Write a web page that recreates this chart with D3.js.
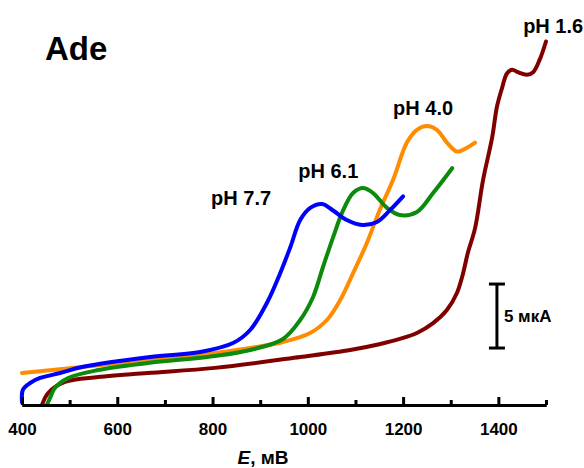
<!DOCTYPE html>
<html>
<head>
<meta charset="utf-8">
<script src="https://cdn.jsdelivr.net/npm/d3@7"></script>
<style>
  html, body { margin: 0; padding: 0; background: #fff; }
  svg { display: block; }
  text { font-family: "Liberation Sans", Arial, sans-serif; font-weight: bold; fill: #000; }
</style>
</head>
<body>
<svg id="chart" width="584" height="468"></svg>
<script>
// Potential, mV
const xTicksMajor = [400, 600, 800, 1000, 1200, 1400];
const xTicksMinor = [500, 700, 900, 1100, 1300, 1500];

// Voltammograms of adenine: [E (mV), I (µA)]
const ph77 = [
  [400, 0.2], [402, 1.2], [417, 1.72], [438, 2.11], [480, 2.5], [526, 2.97],
  [669, 3.75], [774, 4.14], [843, 4.84], [879, 5.86], [914, 7.97], [942, 10.3],
  [963, 12.3], [984, 14.45], [1005, 15.4], [1030, 15.7], [1053, 15.2],
  [1082, 14.45], [1114, 14.06], [1145, 14.3], [1172, 15.2], [1200, 16.3]
];
const ph61 = [
  [452, 0], [459, 0.55], [469, 1.33], [497, 2.1], [560, 2.73], [664, 3.28],
  [805, 3.83], [879, 4.3], [948, 5.16], [984, 6.64], [1011, 8.44], [1032, 10.8],
  [1053, 13.1], [1074, 15.2], [1095, 16.56], [1116, 16.95], [1137, 16.56],
  [1166, 15.4], [1193, 14.84], [1229, 15.08], [1263, 16.56], [1303, 18.5]
];
const ph40 = [
  [400, 2.5], [526, 2.97], [805, 4.06], [879, 4.45], [948, 4.92], [1005, 5.63],
  [1040, 6.64], [1068, 8.2], [1095, 10.3], [1124, 12.66], [1151, 15.23],
  [1179, 17.6], [1208, 20.5], [1229, 21.5], [1250, 21.8], [1271, 21.5],
  [1292, 20.5], [1313, 19.8], [1334, 20.1], [1351, 20.5]
];
const ph16 = [
  [442, 0], [455, 0.94], [490, 1.8], [560, 2.19], [664, 2.5], [805, 2.9],
  [984, 3.75], [1089, 4.3], [1150, 4.75], [1193, 5.16], [1229, 5.63], [1263, 6.4],
  [1292, 7.42], [1313, 8.75], [1326, 10.3], [1336, 11.9], [1351, 13.8],
  [1368, 17.6], [1387, 20.9], [1397, 23.3], [1408, 24.8], [1418, 25.9],
  [1429, 26.2], [1441, 26.0], [1460, 25.8], [1473, 26.0], [1487, 27.0], [1500, 28.4]
];

const series = [
  { name: "pH 1.6", data: ph16, color: "#800000", label: [1452, 29.06] },
  { name: "pH 4.0", data: ph40, color: "#ff8c00", label: [1179, 22.66] },
  { name: "pH 6.1", data: ph61, color: "#0b8a0b", label: [980, 17.73] },
  { name: "pH 7.7", data: ph77, color: "#0000ff", label: [797, 15.63] }
];

// Scale bar: 5 µA
const scaleBar = { E: 1397, from: 4.45, to: 9.45, text: "5 мкА" };

const svg = d3.select("#chart");

const x = d3.scaleLinear().domain([400, 1500]).range([22, 546]);
const y = d3.scaleLinear().domain([0, 30]).range([405, 21]);

const line = d3.line()
  .x(d => x(d[0]))
  .y(d => y(d[1]))
  .curve(d3.curveCatmullRom.alpha(0.5));

// Curves
svg.append("g").selectAll("path")
  .data(series)
  .join("path")
  .attr("d", d => line(d.data))
  .attr("fill", "none")
  .attr("stroke", d => d.color)
  .attr("stroke-width", 4)
  .attr("stroke-linecap", "round")
  .attr("stroke-linejoin", "round");

// Curve labels
svg.append("g").selectAll("text")
  .data(series)
  .join("text")
  .attr("x", d => x(d.label[0]))
  .attr("y", d => y(d.label[1]))
  .attr("font-size", 20)
  .text(d => d.name);

// X axis with inward ticks
const axisY = y(0);
const gMajor = svg.append("g")
  .attr("transform", `translate(0,${axisY})`)
  .call(d3.axisBottom(x).tickValues(xTicksMajor).tickSizeInner(-8).tickSizeOuter(0).tickPadding(18).tickFormat(d3.format("d")));
const gMinor = svg.append("g")
  .attr("transform", `translate(0,${axisY})`)
  .call(d3.axisBottom(x).tickValues(xTicksMinor).tickSizeInner(-5).tickSizeOuter(0).tickFormat(""));

[gMajor, gMinor].forEach(g => {
  g.select(".domain").attr("stroke", "#000").attr("stroke-width", 3);
  g.selectAll(".tick line").attr("stroke", "#000").attr("stroke-width", 3);
});
gMajor.selectAll(".tick text")
  .attr("font-size", 17)
  .attr("font-weight", "bold")
  .attr("font-family", "'Liberation Sans', Arial, sans-serif")
  .attr("fill", "#000");

// Axis title
const title = svg.append("text")
  .attr("x", 263)
  .attr("y", 464)
  .attr("text-anchor", "middle")
  .attr("font-size", 19);
title.append("tspan").attr("font-style", "italic").text("E");
title.append("tspan").text(", мВ");

// Compound name
svg.append("text")
  .attr("x", 45)
  .attr("y", 60)
  .attr("font-size", 33)
  .text("Ade");

// Current scale bar
const sb = svg.append("g").attr("stroke", "#000").attr("stroke-width", 3);
const sx = x(scaleBar.E);
sb.append("line").attr("x1", sx).attr("x2", sx).attr("y1", y(scaleBar.from)).attr("y2", y(scaleBar.to));
sb.append("line").attr("x1", sx - 8).attr("x2", sx + 8).attr("y1", y(scaleBar.from)).attr("y2", y(scaleBar.from));
sb.append("line").attr("x1", sx - 8).attr("x2", sx + 8).attr("y1", y(scaleBar.to)).attr("y2", y(scaleBar.to));
svg.append("text")
  .attr("x", sx + 7)
  .attr("y", (y(scaleBar.from) + y(scaleBar.to)) / 2 + 6)
  .attr("font-size", 17)
  .text(scaleBar.text);
</script>
</body>
</html>
